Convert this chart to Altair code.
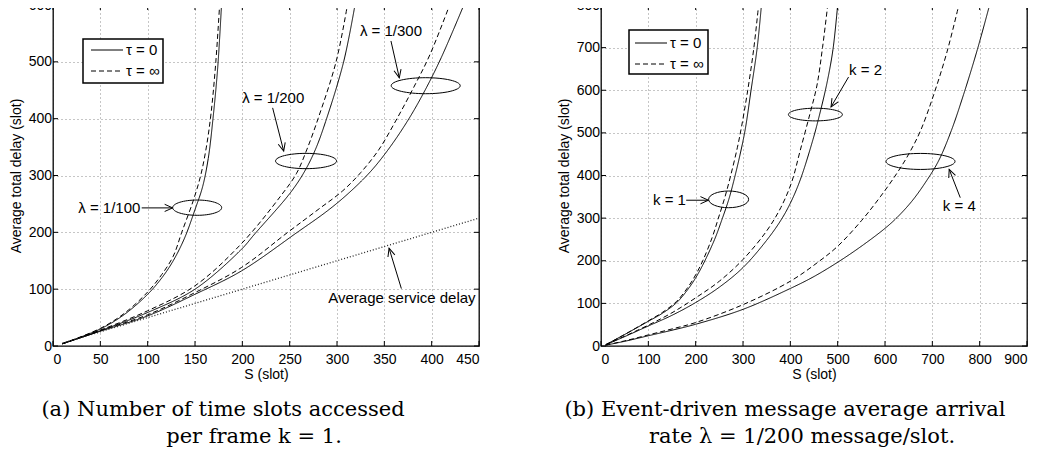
import math
import altair as alt
import pandas as pd

FONT = "Liberation Sans"
SERIF = "DejaVu Serif"
TAU = ["τ = 0", "τ = ∞"]

# ---------------- Panel (a): k = 1, three arrival rates ----------------
a100_t0_S = [10, 50, 75, 100, 115, 127, 139, 150, 158, 164, 169, 174, 178]
a100_t0_D = [4, 30, 55, 91, 120, 150, 190, 240, 280, 330, 400, 490, 600]
a100_ti_S = [10, 50, 75, 100, 115, 127, 136, 148, 156, 162, 167, 172, 176]
a100_ti_D = [4, 31, 57, 95, 126, 158, 200, 255, 300, 350, 410, 500, 600]

a200_t0_S = [10, 50, 100, 150, 199, 213, 250, 265, 277, 288, 307, 319]
a200_t0_D = [4, 27, 59, 100, 170, 197, 268, 305, 345, 395, 500, 600]
a200_ti_S = [10, 50, 100, 150, 199, 241, 257, 268, 280, 299, 311]
a200_ti_D = [4, 28, 62, 106, 180, 265, 303, 345, 400, 500, 600]

a300_t0_S = [10, 50, 100, 150, 199, 258, 290, 313, 336, 356, 376, 393, 410, 434]
a300_t0_D = [4, 26, 53, 91, 132, 200, 238, 270, 308, 350, 400, 450, 507, 600]
a300_ti_S = [10, 50, 100, 150, 199, 248, 280, 306, 325, 344, 362, 381, 398, 419]
a300_ti_D = [4, 27, 55, 94, 138, 200, 240, 273, 305, 345, 396, 455, 512, 600]

service_S = [10, 450]
service_D = [5, 225]

a_xticks = [0, 50, 100, 150, 200, 250, 300, 350, 400, 450]
a_yticks = [0, 100, 200, 300, 400, 500, 600]

a_text = ["λ = 1/100", "λ = 1/200", "λ = 1/300", "Average service delay"]
a_text_S = [59.5, 232.6, 357, 368.6]
a_text_D = [243, 437, 554, 84]
a_arrow_S = [93.7, 232, 357, 368]
a_arrow_D = [243, 419, 536.7, 101]
a_arrow_S2 = [126.4, 243.7, 365.8, 355]
a_arrow_D2 = [243, 343, 472, 172]
a_ell_S = [152.3, 267.3, 393.7]
a_ell_D = [243.4, 325.5, 458]
a_ell_w = [49, 61, 69]
a_ell_h = [15.3, 15.3, 16]

# ---------------- Panel (b): lambda = 1/200, k = 1, 2, 4 ----------------
k1_t0_S = [10, 50, 100, 130, 160, 185, 200, 215, 240, 255, 270, 280, 295, 305, 317, 330, 339]
k1_t0_D = [3, 27, 58, 77, 102, 135, 160, 190, 250, 295, 344, 385, 455, 510, 600, 700, 800]
k1_ti_S = [10, 50, 100, 130, 160, 185, 200, 215, 235, 248, 262, 274, 288, 297, 310, 323, 333]
k1_ti_D = [3, 27, 59, 79, 105, 140, 167, 200, 255, 300, 350, 400, 465, 515, 600, 700, 800]

k2_t0_S = [10, 50, 100, 150, 200, 250, 300, 350, 380, 400, 421, 448, 460, 477, 490, 500]
k2_t0_D = [3, 22, 47, 72, 102, 138, 184, 248, 295, 335, 390, 485, 535, 615, 695, 800]
k2_ti_S = [10, 50, 100, 150, 200, 250, 300, 350, 380, 403, 420, 441, 456, 468, 479]
k2_ti_D = [3, 23, 49, 78, 113, 152, 203, 270, 325, 385, 455, 543, 610, 700, 800]

k4_t0_S = [10, 50, 100, 150, 200, 300, 400, 450, 505, 555, 600, 625, 657, 685, 713, 740, 766, 795, 821]
k4_t0_D = [2, 11, 24, 37, 51, 86, 135, 163, 200, 238, 276, 301, 340, 383, 434, 505, 590, 695, 800]
k4_ti_S = [10, 50, 100, 150, 200, 300, 400, 460, 500, 551, 590, 625, 650, 675, 703, 731, 756]
k4_ti_D = [2, 12, 26, 40, 55, 97, 152, 198, 234, 295, 350, 405, 450, 505, 590, 690, 800]

b_xticks = [0, 100, 200, 300, 400, 500, 600, 700, 800, 900]
b_yticks = [0, 100, 200, 300, 400, 500, 600, 700, 800]

b_text = ["k = 1", "k = 2", "k = 4"]
b_text_S = [144.7, 559, 757]
b_text_D = [342.5, 647.5, 328.5]
b_arrow_S = [180, 523, 759]
b_arrow_D = [342, 631, 348]
b_arrow_S2 = [227, 486, 735.6]
b_arrow_D2 = [342, 561, 414.5]
b_ell_S = [269.6, 453, 675]
b_ell_D = [344, 543, 433]
b_ell_w = [40, 54, 69]
b_ell_h = [16.7, 12.7, 16]

caption_a = ["(a) Number of time slots accessed", "per frame k = 1."]
caption_b = ["(b) Event-driven message average arrival", "rate λ = 1/200 message/slot."]

# ---------------- helpers ----------------
W, H = 426, 341
dash_scale = alt.Scale(domain=TAU, range=[[1, 0], [5, 3]])


def curves(specs):
    rows = []
    for cid, tau, S, D in specs:
        for s, d in zip(S, D):
            rows.append({"curve": cid, "tau": tau, "S": s, "D": d})
    return pd.DataFrame(rows)


def one(text):
    return pd.DataFrame({"t": [text]})


def panel(df, xmax, ymax, xticks, yticks, texts, tS, tD, aS, aD, aS2, aD2,
          eS, eD, ew, eh, legend_box, captions, cap_x, extra=None):
    sx, sy = W / xmax, H / ymax
    xs = alt.Scale(domain=[0, xmax], nice=False, zero=False)
    ys = alt.Scale(domain=[0, ymax], nice=False, zero=False)
    xax = alt.Axis(values=xticks, title="S (slot)", grid=True, labelPadding=6, titlePadding=1)
    yax = alt.Axis(values=yticks, title="Average total delay (slot)", grid=True,
                   labelPadding=1.5, titlePadding=5)
    X = lambda f="S": alt.X(f"{f}:Q", scale=xs, axis=xax)
    Y = lambda f="D": alt.Y(f"{f}:Q", scale=ys, axis=yax)

    layers = []
    lines = alt.Chart(df).mark_line(color="black", strokeWidth=1, interpolate="catmull-rom", clip=True).encode(
        x=X(), y=Y(),
        detail="curve:N",
        strokeDash=alt.StrokeDash("tau:N", scale=dash_scale, legend=None),
    )
    layers.append(lines)
    if extra is not None:
        layers.append(extra(X, Y))

    # inward ticks (matlab style)
    xt = pd.DataFrame({"S": xticks})
    yt = pd.DataFrame({"D": yticks})
    layers.append(alt.Chart(xt).mark_rule(color="black", strokeWidth=1).encode(
        x=X(), y=alt.value(H), y2=alt.value(H - 5)))
    layers.append(alt.Chart(xt).mark_rule(color="black", strokeWidth=1).encode(
        x=X(), y=alt.value(0), y2=alt.value(5)))
    layers.append(alt.Chart(yt).mark_rule(color="black", strokeWidth=1).encode(
        y=Y(), x=alt.value(0), x2=alt.value(5)))
    layers.append(alt.Chart(yt).mark_rule(color="black", strokeWidth=1).encode(
        y=Y(), x=alt.value(W - 5), x2=alt.value(W)))

    # annotation texts
    tdf = pd.DataFrame({"t": texts, "S": tS, "D": tD})
    layers.append(alt.Chart(tdf).mark_text(font=FONT, fontSize=15, color="black",
                                           align="center", baseline="middle").encode(
        x=X(), y=Y(), text="t:N"))

    # arrows
    ang = []
    for s1, d1, s2, d2 in zip(aS, aD, aS2, aD2):
        a = math.degrees(math.atan2((s2 - s1) * sx, (d2 - d1) * sy)) % 360
        ang.append(a)
    adf = pd.DataFrame({"S": aS, "D": aD, "S2": aS2, "D2": aD2, "ang": ang})
    layers.append(alt.Chart(adf).mark_rule(color="black", strokeWidth=1).encode(
        x=X(), y=Y(), x2="S2:Q", y2="D2:Q"))
    layers.append(alt.Chart(adf).mark_point(
        shape="M-0.45,1L0,0L0.45,1", filled=False, color="black", strokeWidth=1,
        opacity=1, size=256).encode(
        x=X("S2"), y=Y("D2"), angle=alt.Angle("ang:Q", scale=None)))

    # ellipses
    paths = [f"M-1,0A1,{h / w:.3f},0,1,1,1,0A1,{h / w:.3f},0,1,1,-1,0Z" for w, h in zip(ew, eh)]
    edf = pd.DataFrame({"S": eS, "D": eD, "shape": paths, "sz": [w * w for w in ew]})
    layers.append(alt.Chart(edf).mark_point(filled=False, color="black", strokeWidth=1, opacity=1).encode(
        x=X(), y=Y(), shape=alt.Shape("shape:N", scale=None, legend=None),
        size=alt.Size("sz:Q", scale=None, legend=None)))

    # legend box (manual)
    bx0, by0, bx1, by1, lx0, lx1, ly0, ly1, tx = legend_box
    layers.append(alt.Chart(one("")).mark_rect(fill="white", stroke="black", strokeWidth=1.5).encode(
        x=alt.value(bx0), x2=alt.value(bx1), y=alt.value(by0), y2=alt.value(by1)))
    for tau, ly in zip(TAU, [ly0, ly1]):
        ldf = pd.DataFrame({"tau": [tau]})
        layers.append(alt.Chart(ldf).mark_rule(color="black", strokeWidth=1).encode(
            x=alt.value(lx0), x2=alt.value(lx1), y=alt.value(ly),
            strokeDash=alt.StrokeDash("tau:N", scale=dash_scale, legend=None)))
        layers.append(alt.Chart(ldf).mark_text(font=FONT, fontSize=15, color="black",
                                               align="left", baseline="middle").encode(
            x=alt.value(tx), y=alt.value(ly), text="tau:N"))

    # captions
    for line, cx, cy in zip(captions, cap_x, [411, 438]):
        layers.append(alt.Chart(one(line)).mark_text(font=SERIF, fontSize=21, color="black",
                                                     align="center", baseline="alphabetic").encode(
            x=alt.value(cx), y=alt.value(cy), text="t:N"))

    return alt.layer(*layers).properties(width=W, height=H)


df_a = curves([
    ("a100_0", TAU[0], a100_t0_S, a100_t0_D),
    ("a100_i", TAU[1], a100_ti_S, a100_ti_D),
    ("a200_0", TAU[0], a200_t0_S, a200_t0_D),
    ("a200_i", TAU[1], a200_ti_S, a200_ti_D),
    ("a300_0", TAU[0], a300_t0_S, a300_t0_D),
    ("a300_i", TAU[1], a300_ti_S, a300_ti_D),
])
df_b = curves([
    ("k1_0", TAU[0], k1_t0_S, k1_t0_D),
    ("k1_i", TAU[1], k1_ti_S, k1_ti_D),
    ("k2_0", TAU[0], k2_t0_S, k2_t0_D),
    ("k2_i", TAU[1], k2_ti_S, k2_ti_D),
    ("k4_0", TAU[0], k4_t0_S, k4_t0_D),
    ("k4_i", TAU[1], k4_ti_S, k4_ti_D),
])
service_df = pd.DataFrame({"S": service_S, "D": service_D})


def service_layer(X, Y):
    return alt.Chart(service_df).mark_line(color="#222", strokeWidth=1.3, strokeDash=[1, 2]).encode(
        x=X(), y=Y())


left = panel(df_a, 450, 600, a_xticks, a_yticks, a_text, a_text_S, a_text_D,
             a_arrow_S, a_arrow_D, a_arrow_S2, a_arrow_D2,
             a_ell_S, a_ell_D, a_ell_w, a_ell_h,
             (30, 34, 110, 78, 38, 70, 45, 66, 73), caption_a, [170, 201], extra=service_layer)
right = panel(df_b, 900, 800, b_xticks, b_yticks, b_text, b_text_S, b_text_D,
              b_arrow_S, b_arrow_D, b_arrow_S2, b_arrow_D2,
              b_ell_S, b_ell_D, b_ell_w, b_ell_h,
              (28, 25, 107, 69, 34, 66, 38, 59, 69), caption_b, [184, 201])

chart = alt.hconcat(left, right, spacing=73).properties(
    padding={"left": 0, "top": -11, "right": 0, "bottom": 0}
).configure_view(stroke="black", strokeWidth=1.3).configure_axis(
    labelFont=FONT, labelFontSize=14, labelColor="black",
    titleFont=FONT, titleFontSize=14, titleFontWeight="normal", titleColor="black",
    grid=True, gridDash=[1, 3], gridColor="#333", gridOpacity=0.7, gridWidth=0.8,
    ticks=False, domain=False,
)

chart.save("out.html", embed_options={"renderer": "svg", "actions": False})
